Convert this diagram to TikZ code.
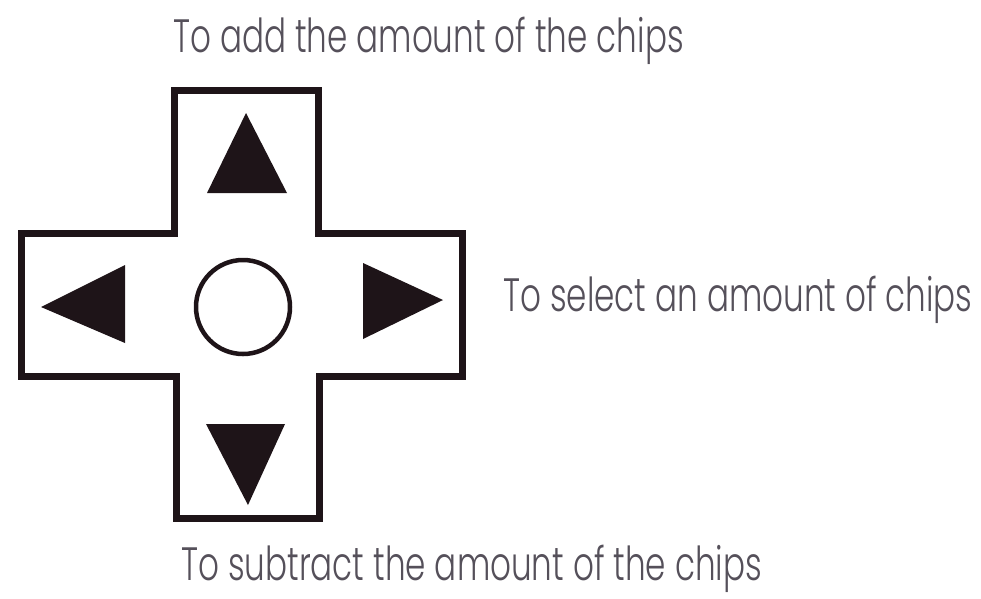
\documentclass[tikz,border=0pt]{standalone}
\usepackage{fontspec}
\setmainfont{Poppins}[UprightFont=* Light]
\definecolor{ink}{HTML}{1E1418}
\definecolor{txt}{HTML}{55505A}
\newcommand{\tallcaps}[1]{\scalebox{0.816}[1.17]{#1}}
\tikzset{
  padline/.style={draw=ink, line width=7pt, line join=miter},
  tri/.style={fill=ink, draw=none},
  lbl/.style={text=txt, font=\fontsize{40}{46}\selectfont, inner sep=0pt},
}
\begin{document}
\begin{tikzpicture}[x=1pt,y=-1pt]
\useasboundingbox (0,0) rectangle (981,598);
% cross outline
\draw[padline] (174,90) -- (318,90) -- (318,233) -- (462,233) -- (462,376)
  -- (319,376) -- (319,518) -- (176,518) -- (176,376) -- (21,376)
  -- (21,233) -- (174,233) -- cycle;
% arrows
\fill[tri] (246,113) -- (287,193) -- (207,193) -- cycle;
\fill[tri] (206,424) -- (285,424) -- (248,505) -- cycle;
\fill[tri] (41,307) -- (125,265) -- (125,343) -- cycle;
\fill[tri] (443,300) -- (363,263) -- (363,339) -- cycle;
% centre button
\node[circle, draw=ink, line width=4.5pt, minimum size=94pt, inner sep=0pt] (ok) at (243,307) {};
% labels
\node[lbl, anchor=base west] (up) at (173,52) {\tallcaps{To add the amount of the chips}};
\node[lbl, anchor=base west] (side) at (503,311) {\tallcaps{To select an amount of chips}};
\node[lbl, anchor=base west] (down) at (181,580) {\tallcaps{To subtract the amount of the chips}};
\end{tikzpicture}
\end{document}
